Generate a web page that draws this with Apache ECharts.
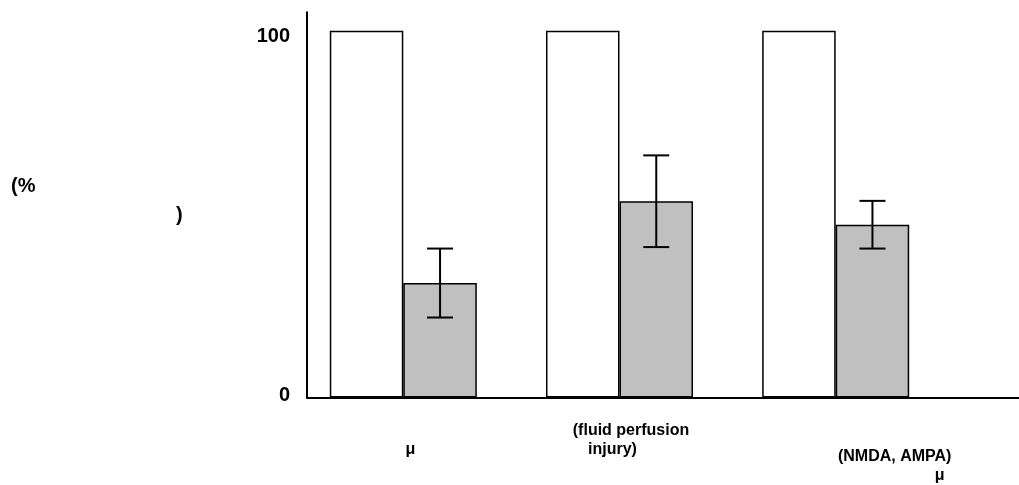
<!DOCTYPE html>
<html>
<head>
<meta charset="utf-8">
<script src="https://cdn.jsdelivr.net/npm/echarts@6/dist/echarts.min.js"></script>
<style>
html,body{margin:0;padding:0;background:#fff;}
#main{width:1019px;height:485px;}
</style>
</head>
<body>
<div id="main"></div>
<script type="text/javascript">
// data
var categories = ['μ', '(fluid perfusion\ninjury)', '(NMDA, AMPA)\nμ'];
var controlValues = [100, 100, 100];
var treatedValues = [31.2, 53.5, 47.1];
var treatedErr = [9.4, 12.5, 6.5];
var yTicks = [0, 100];

var chart = echarts.init(document.getElementById('main'));

var sans = '"Liberation Sans", Arial, sans-serif';

// per-category label look (blank line on top, rich style per line)
var labelStyle = [
    {top: 19, shift: ['l0', 'l1']},
    {top: 0, shift: ['m0', 'm1']},
    {top: 26.5, shift: ['r0', 'r1']}
];

var errData = treatedValues.map(function (v, i) {
    return [i, v - treatedErr[i], v + treatedErr[i]];
});

function txt(extra) {
    var s = {fontFamily: sans, fontWeight: 'bold', fontSize: 16, color: '#000', lineHeight: 19};
    for (var k in extra) s[k] = extra[k];
    return s;
}

option = {
    backgroundColor: '#fff',
    animation: false,
    grid: [
        {left: 307, right: 0, top: 12.3, bottom: 87.5},
        {left: 295.2, right: 75.2, top: 12.3, bottom: 87.5}
    ],
    xAxis: [
        {
            gridIndex: 0, type: 'value', min: 0, max: 1,
            axisLine: {show: true, lineStyle: {color: '#000', width: 2}},
            axisTick: {show: false}, axisLabel: {show: false}, splitLine: {show: false}
        },
        {
            gridIndex: 1, type: 'category', data: categories,
            axisLine: {show: false}, axisTick: {show: false},
            axisLabel: {
                interval: 0,
                margin: 23.5,
                hideOverlap: false,
                formatter: function (value, idx) {
                    var lines = value.split('\n');
                    var st = labelStyle[idx];
                    var out = [];
                    if (st.top) out.push('{b' + idx + '| }');
                    if (lines.length === 1) {
                        out.push('{' + st.shift[1] + '|' + lines[0] + '}');
                    } else {
                        out.push('{' + st.shift[0] + '|' + lines[0] + '}');
                        out.push('{' + st.shift[1] + '|' + lines[1] + '}');
                    }
                    return out.join('\n');
                },
                rich: {
                    b0: {lineHeight: 19, fontSize: 10},
                    b2: {lineHeight: 26.5, fontSize: 10},
                    l1: txt({padding: [0, 0, 0, 14]}),
                    m0: txt({padding: [0, 0, 0, 23]}),
                    m1: txt({padding: [0, 14, 0, 0]}),
                    r0: txt({padding: [0, 0, 0, 118]}),
                    r1: txt({padding: [0, 0, 0, 208]})
                }
            }
        }
    ],
    yAxis: [
        {
            gridIndex: 0, type: 'value', min: 0, max: 105,
            axisLine: {show: true, lineStyle: {color: '#000', width: 2}},
            axisTick: {show: false},
            splitLine: {show: false},
            axisLabel: {
                customValues: yTicks,
                margin: 17,
                formatter: function (v) {
                    return v === 100 ? '{hi|100}' : '{lo|' + v + '}';
                },
                rich: {
                    hi: {fontFamily: sans, fontWeight: 'bold', fontSize: 20, color: '#000', padding: [12, 0, 0, 0]},
                    lo: {fontFamily: sans, fontWeight: 'bold', fontSize: 20, color: '#000', padding: [0, 0, 4, 0]}
                }
            }
        },
        {
            gridIndex: 1, type: 'value', min: 0, max: 105, show: false
        }
    ],
    graphic: [
        {type: 'text', left: 11, top: 176, style: {text: '(%', fontFamily: sans, fontWeight: 'bold', fontSize: 20, fill: '#000'}},
        {type: 'text', left: 176, top: 205, style: {text: ')', fontFamily: sans, fontWeight: 'bold', fontSize: 20, fill: '#000'}}
    ],
    series: [
        {
            type: 'bar', xAxisIndex: 1, yAxisIndex: 1,
            data: controlValues,
            barWidth: '34%', barGap: '0%',
            itemStyle: {color: '#fff', borderColor: '#000', borderWidth: 1.5}
        },
        {
            type: 'bar', xAxisIndex: 1, yAxisIndex: 1,
            data: treatedValues,
            barWidth: '34%', barGap: '0%',
            itemStyle: {color: '#c0c0c0', borderColor: '#000', borderWidth: 1.5}
        },
        {
            type: 'custom', xAxisIndex: 1, yAxisIndex: 1,
            data: errData,
            encode: {x: 0, y: [1, 2]},
            z: 5,
            renderItem: function (params, api) {
                var lo = api.coord([api.value(0), api.value(1)]);
                var hi = api.coord([api.value(0), api.value(2)]);
                var x = lo[0] + api.size([1, 0])[0] * 0.17;
                var cap = 13;
                var ls = {stroke: '#000', lineWidth: 2};
                return {
                    type: 'group',
                    children: [
                        {type: 'line', shape: {x1: x, y1: hi[1], x2: x, y2: lo[1]}, style: ls},
                        {type: 'line', shape: {x1: x - cap, y1: hi[1], x2: x + cap, y2: hi[1]}, style: ls},
                        {type: 'line', shape: {x1: x - cap, y1: lo[1], x2: x + cap, y2: lo[1]}, style: ls}
                    ]
                };
            }
        }
    ]
};

chart.setOption(option);
</script>
</body>
</html>
